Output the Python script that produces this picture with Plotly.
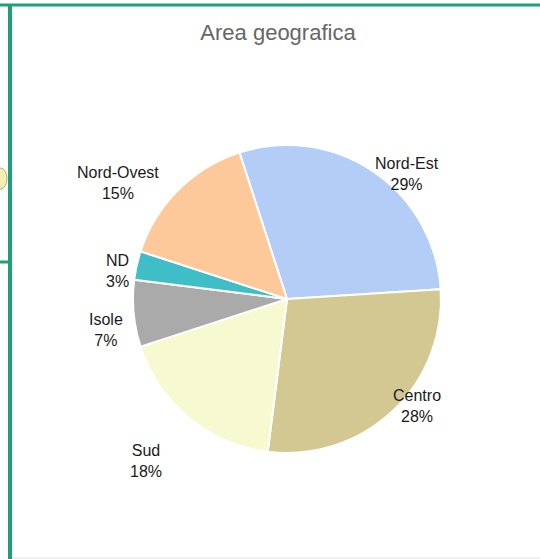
import math
import plotly.graph_objects as go

labels = ["Nord-Est", "Centro", "Sud", "Isole", "ND", "Nord-Ovest"]
values = [29, 28, 18, 7, 3, 15]
colors = ["#b3cdf6", "#d3c891", "#f7f9d1", "#aaaaaa", "#3fbec8", "#fec99a"]

W, H = 540, 559
cx, cy, r = 287, 299, 154
rotation = -18

# label placement style (angle offset in degrees, radius in px)
lab_dang = [9.5, -7, 1.5, -4.5, -3.5, -11]
lab_rad = [172, 168, 216, 185, 173, 205]

fig = go.Figure(go.Pie(
    labels=labels, values=values, sort=False, direction="clockwise", rotation=rotation,
    marker=dict(colors=colors, line=dict(color="white", width=2)),
    textinfo="none", showlegend=False, hoverinfo="label+percent",
    domain=dict(x=[(cx - r) / W, (cx + r) / W], y=[1 - (cy + r) / H, 1 - (cy - r) / H]),
))

total = sum(values)
annotations = []
acc = 0
for lab, v, da, rr in zip(labels, values, lab_dang, lab_rad):
    mid = rotation + 360 * (acc + v / 2) / total
    acc += v
    a = math.radians(mid + da)
    px = cx + 1 + rr * math.sin(a)
    py = cy - 1 - rr * math.cos(a)
    annotations.append(dict(
        x=px / W, y=1 - py / H, xref="paper", yref="paper", showarrow=False,
        text=f"{lab}<br>{round(100 * v / total)}%", align="center",
        xanchor="center", yanchor="middle",
        font=dict(family="Arial, Liberation Sans", size=16, color="#1a1a1a"),
    ))

green = "#1f9e77"
fig.update_layout(
    width=W, height=H, margin=dict(l=0, r=0, t=0, b=0),
    paper_bgcolor="white", plot_bgcolor="white",
    title=dict(text="Area geografica", x=278 / W, xanchor="center", y=1 - 32 / H, yanchor="middle",
               font=dict(family="Arial, Liberation Sans", size=22, color="#666666")),
    annotations=annotations,
    shapes=[
        dict(type="line", xref="paper", yref="paper", x0=0, x1=1, y0=1 - 5 / H, y1=1 - 5 / H,
             line=dict(color=green, width=3)),
        dict(type="line", xref="paper", yref="paper", x0=10 / W, x1=10 / W, y0=0, y1=1 - 4 / H,
             line=dict(color=green, width=4)),
        dict(type="line", xref="paper", yref="paper", x0=0, x1=10 / W, y0=1 - 262 / H, y1=1 - 262 / H,
             line=dict(color=green, width=3)),
        dict(type="line", xref="paper", yref="paper", x0=12 / W, x1=1, y0=1 - 558 / H, y1=1 - 558 / H,
             line=dict(color="#e0e0e0", width=1)),
        dict(type="circle", xref="paper", yref="paper", x0=-6 / W, x1=7 / W, y0=1 - 189 / H, y1=1 - 168 / H,
             fillcolor="#f3eeb4", line=dict(color="#b0aa80", width=1), layer="below"),
    ],
)
fig.write_html("out.html", config={"displayModeBar": False})

with open("out.html", "r", encoding="utf-8") as f:
    html = f.read()
html = html.replace("<head>", "<head><style>html,body{margin:0;padding:0;}</style>", 1)
with open("out.html", "w", encoding="utf-8") as f:
    f.write(html)
